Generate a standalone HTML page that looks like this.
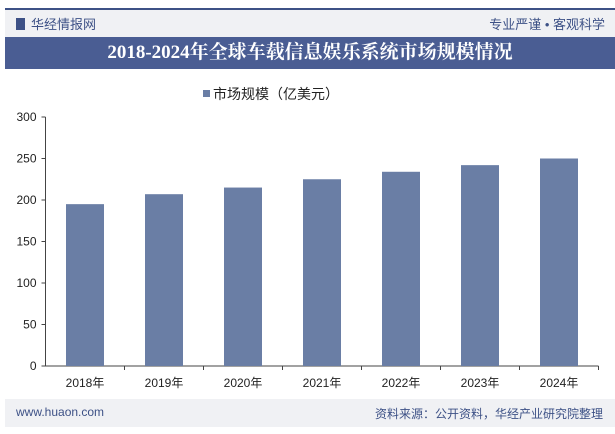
<!DOCTYPE html>
<html><head><meta charset="utf-8"><style>
body{margin:0;width:615px;height:434px;background:#fff;font-family:"Liberation Sans","Noto Sans CJK SC",sans-serif;position:relative;overflow:hidden}
.abs{position:absolute}
</style></head><body>
<div class="abs" style="left:5px;top:8px;width:610px;height:2px;background:#3d5186"></div>
<div class="abs" style="left:5px;top:10px;width:610px;height:27px;background:#f0f1f4"></div>
<div class="abs" style="left:16px;top:14px;font-size:13px;color:#3d5186"><span style="display:inline-block;width:9px;height:12px;background:#3d5186;vertical-align:-1px;margin-right:6px"></span>华经情报网</div>
<div class="abs" style="right:10px;top:14px;font-size:13px;color:#3d5186">专业严谨 • 客观科学</div>
<div class="abs" style="left:5px;top:37px;width:610px;height:32px;background:#4a5d93;color:#fff;font:bold 19px 'Liberation Serif','Noto Serif CJK SC',serif;text-align:center;line-height:32px">2018-2024年全球车载信息娱乐系统市场规模情况</div>
<div class="abs" style="left:203px;top:84px;font-size:14px;color:#222"><span style="display:inline-block;width:7px;height:7px;background:#6a7ea5;margin-right:3px;vertical-align:2px"></span>市场规模（亿美元）</div>
<svg class="abs" style="left:0;top:0" width="615" height="434" id="chart"></svg>
<div class="abs" style="left:5px;top:399px;width:610px;height:28px;background:#f0f1f4"></div>
<div class="abs" style="left:16px;top:405px;font-size:12px;color:#3d5186">www.huaon.com</div>
<div class="abs" style="right:12px;top:405px;font-size:12px;color:#3d5186">资料来源：公开资料，华经产业研究院整理</div>
<script>
const categories=["2018年","2019年","2020年","2021年","2022年","2023年","2024年"];
const values=[195,207,215,225,234,242,250];
const yTicks=[0,50,100,150,200,250,300];
const svg=document.getElementById('chart');const NS="http://www.w3.org/2000/svg";
const x0=45.5,x1=598.5,y0=366,y1=117,ymax=300;
const band=(x1-x0)/categories.length;
const Y=v=>y0-(v/ymax)*(y0-y1);
function mk(t,a){const e=document.createElementNS(NS,t);for(const k in a)e.setAttribute(k,a[k]);svg.appendChild(e);return e;}
let ax=mk('line',{x1:x0,y1:y1,x2:x0,y2:y0,stroke:'#444'});


let bx=mk('line',{x1:x0,y1:y0,x2:x1,y2:y0,stroke:'#444'});


yTicks.forEach(t=>{
 mk('line',{x1:x0-4,y1:Y(t),x2:x0,y2:Y(t),stroke:'#444'});
 const l=mk('text',{x:x0-9,y:Y(t)+4,'text-anchor':'end','font-size':12,fill:'#222'});l.textContent=t;
 
 
});
categories.forEach((c,i)=>{
 const cx=x0+band*(i+0.5);
 mk('line',{x1:x0+band*(i+1),y1:y0,x2:x0+band*(i+1),y2:y0+4,stroke:'#444'});
 const r=mk('rect',{x:cx-19,y:Y(values[i]),width:38,height:y0-Y(values[i]),fill:'#6a7ea5'});
 
 
 const l=mk('text',{x:cx,y:y0+21,'text-anchor':'middle','font-size':12,fill:'#222'});l.textContent=c;
 
 
});
</script>
</body></html>
